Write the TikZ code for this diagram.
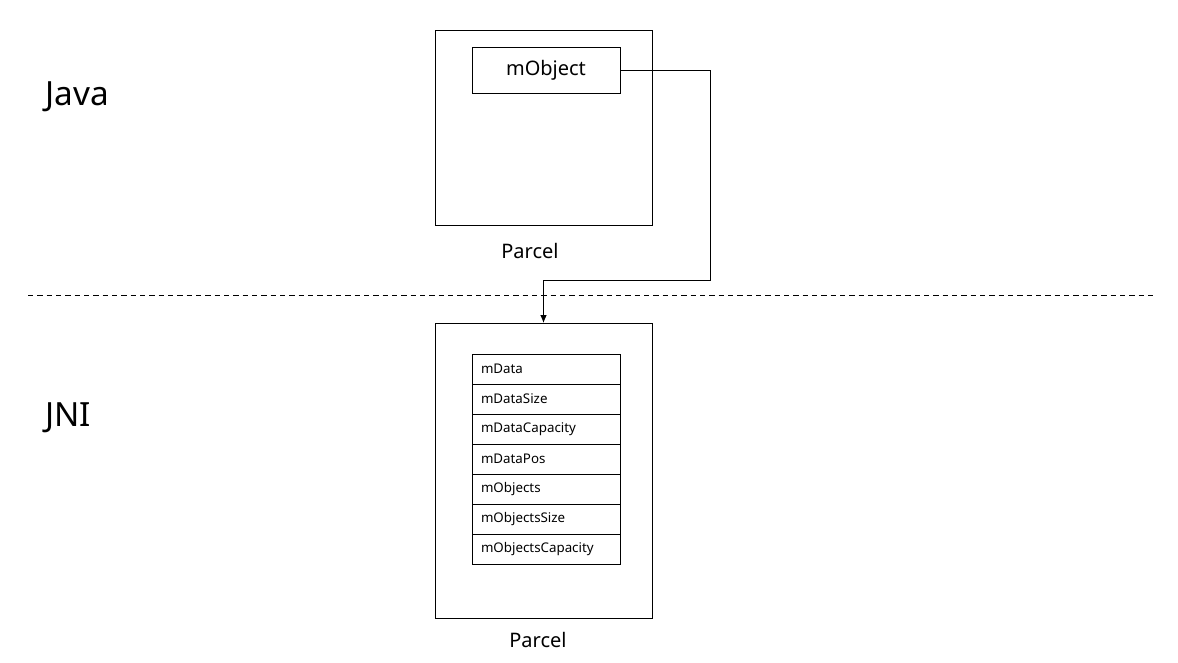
\documentclass[tikz,border=0pt]{standalone}
\usepackage{fontspec}
\setmainfont{Noto Sans}
\usetikzlibrary{positioning,arrows.meta}

\tikzset{every picture/.style={line width=0.75pt}}
\tikzset{
  layer/.style={font=\fontsize{25}{30}\selectfont, anchor=west, inner sep=0pt},
  caption/.style={font=\fontsize{15}{18}\selectfont, inner sep=0pt},
  parcelbox/.style={draw, minimum width=162.75pt, outer sep=0pt},
  field/.style={draw, outer sep=0pt, inner xsep=6.75pt, inner ysep=0pt, text width=97.5pt, align=left,
    minimum height=22.5pt, font=\fontsize{10}{12}\selectfont}
}

\begin{document}
\begin{tikzpicture}[x=0.75pt,y=0.75pt,yscale=-1,xscale=1]
\useasboundingbox (0,0) rectangle (1178,662);

% Layer labels
\node[layer] (java) at (45,97) {Java};
\node[layer] (jni) at (45,418) {JNI};

% Dashed separator
\coordinate (sepl) at (28,295);
\coordinate (sepr) at (1155,295);
\draw[dashed, dash pattern=on 4pt off 3pt] (sepl) -- (sepr);

% Java side Parcel
\node[parcelbox, minimum height=146.25pt] (javaparcel) at (543.5,127.5) {};
\node[draw, outer sep=0pt, minimum width=111pt, minimum height=34.5pt, font=\fontsize{15}{18}\selectfont] (mobj) at (546,70) {mObject};
\node[caption] (javacap) at (530,251) {Parcel};

% JNI side Parcel
\node[parcelbox, minimum height=221.25pt] (jniparcel) at (543.5,470.5) {};
\node[field, anchor=north] (f1) at (546,354) {mData};
\foreach \name [count=\i from 2, evaluate=\i as \p using int(\i-1)] in {mDataSize,mDataCapacity,mDataPos,mObjects,mObjectsSize,mObjectsCapacity}
  \node[field, below=0pt of f\p] (f\i) {\name};
\node[caption] (jnicap) at (538,640) {Parcel};

% Connector
\coordinate (bend) at (710,280);
\draw[-{Latex[length=6pt,width=5pt]}] (mobj.east) -| (bend) -| (jniparcel.north);

\end{tikzpicture}
\end{document}
